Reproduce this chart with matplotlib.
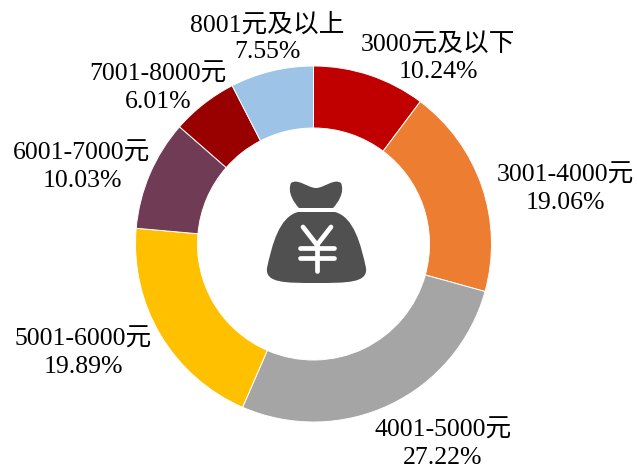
import matplotlib
matplotlib.use("Agg")
import matplotlib.pyplot as plt
from matplotlib.patches import PathPatch
from matplotlib.path import Path

plt.rcParams['font.family'] = ['Liberation Serif', 'Noto Sans CJK SC', 'DejaVu Sans']

# Income bands and shares
labels = ["3000元及以下", "3001-4000元", "4001-5000元", "5001-6000元",
          "6001-7000元", "7001-8000元", "8001元及以上"]
shares = [10.24, 19.06, 27.22, 19.89, 10.03, 6.01, 7.55]
colors = ["#C00000", "#ED7D31", "#A5A5A5", "#FFC000", "#6F3B55", "#990000", "#9DC3E6"]

# label centres in px of the reference
label_pos = [(438, 58), (565, 189), (443, 444), (83, 353), (82, 167), (158, 88), (267, 38)]

W, H = 637, 474
fig = plt.figure(figsize=(W / 100, H / 100), dpi=100)
ax = fig.add_axes([0, 0, 1, 1])


def flip(pts):
    # reference px (y down) to axes data (y up)
    return [(x, H - y) for x, y in pts]


cx, cy, r = 313.5, 244, 178
ax.pie(shares, colors=colors, startangle=90, counterclock=False,
       center=(cx, H - cy), radius=r, frame=True,
       wedgeprops=dict(width=r - 116, edgecolor="white", linewidth=0.7))
ax.set_xlim(0, W)
ax.set_ylim(0, H)
ax.set_aspect("equal")
ax.axis("off")

for lab, val, (x, y) in zip(labels, shares, label_pos):
    ax.text(x, H - y, f"{lab}\n{val:.2f}%", ha="center", va="center", fontsize=18.5,
            color="black", linespacing=1.3)

# money bag icon
icon = "#505050"
body = [(298, 212), (279, 217), (272, 245), (267, 268), (265, 283), (285, 283), (316, 283),
        (347, 283), (368, 283), (366, 268), (361, 245), (354, 217), (335, 212), (298, 212)]
codes = [Path.MOVETO, Path.CURVE4, Path.CURVE4, Path.CURVE4, Path.CURVE4, Path.CURVE4, Path.CURVE4,
         Path.CURVE4, Path.CURVE4, Path.CURVE4, Path.CURVE4, Path.CURVE4, Path.CURVE4, Path.CLOSEPOLY]
ax.add_patch(PathPatch(Path(flip(body), codes), fc=icon, ec="none"))

neck = [(299, 208), (294, 203), (287, 192), (291, 183), (298, 178), (308, 188), (316, 188),
        (324, 188), (334, 178), (341, 183), (345, 192), (338, 203), (333, 208), (299, 208)]
codes = [Path.MOVETO, Path.CURVE4, Path.CURVE4, Path.CURVE4, Path.CURVE4, Path.CURVE4, Path.CURVE4,
         Path.CURVE4, Path.CURVE4, Path.CURVE4, Path.CURVE4, Path.CURVE4, Path.CURVE4, Path.CLOSEPOLY]
ax.add_patch(PathPatch(Path(flip(neck), codes), fc=icon, ec="none"))

# yen sign of the icon
for seg in [[(303, 227), (317, 245)], [(331, 227), (317, 245)], [(317, 245), (317, 271)],
            [(300, 248), (334, 248)], [(300, 258), (334, 258)]]:
    xs, ys = zip(*flip(seg))
    ax.plot(xs, ys, color="white", lw=3.4, solid_capstyle="round")

fig.savefig("out.png", dpi=100)
